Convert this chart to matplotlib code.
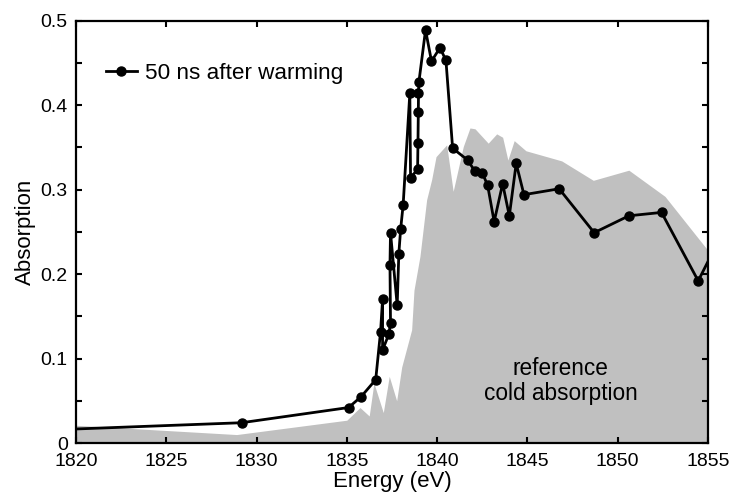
import matplotlib
matplotlib.use("Agg")
import matplotlib.pyplot as plt
from matplotlib.ticker import MultipleLocator, FuncFormatter

plt.rcParams['font.family'] = ['Liberation Sans', 'DejaVu Sans']

# measured 50 ns after warming (energy eV, absorption)
warm_energy = [1818.0, 1829.17, 1835.1, 1835.8, 1836.6, 1836.87, 1836.98, 1836.98,
               1837.33, 1837.42, 1837.39, 1837.42, 1837.79, 1837.88, 1837.98, 1838.12,
               1838.49, 1838.53, 1838.92, 1838.94, 1838.96, 1838.97, 1838.99, 1839.36,
               1839.69, 1840.16, 1840.49, 1840.86, 1841.69, 1842.09, 1842.5, 1842.8,
               1843.16, 1843.63, 1844.0, 1844.38, 1844.81, 1846.76, 1848.70, 1850.62,
               1852.43, 1854.46, 1855.6]
warm_abs = [0.015, 0.024, 0.042, 0.055, 0.075, 0.132, 0.170, 0.110,
            0.129, 0.142, 0.211, 0.249, 0.163, 0.224, 0.253, 0.282,
            0.414, 0.314, 0.324, 0.355, 0.392, 0.414, 0.427, 0.489,
            0.452, 0.468, 0.453, 0.349, 0.335, 0.322, 0.320, 0.305,
            0.262, 0.307, 0.269, 0.331, 0.294, 0.301, 0.249, 0.269,
            0.273, 0.192, 0.240]

# reference cold absorption (grey area)
cold_energy = [1820.0, 1828.9, 1835.0, 1835.73, 1836.24, 1836.5, 1837.02, 1837.35,
               1837.76, 1838.04, 1838.59, 1838.72, 1839.05, 1839.42, 1839.7, 1839.94,
               1840.53, 1840.89, 1841.45, 1841.82, 1842.1, 1842.83, 1843.3, 1843.63,
               1843.92, 1844.27, 1844.92, 1846.9, 1848.65, 1850.62, 1852.62, 1855.0]
cold_abs = [0.021, 0.010, 0.027, 0.042, 0.032, 0.071, 0.036, 0.079,
            0.050, 0.090, 0.134, 0.181, 0.221, 0.288, 0.312, 0.339,
            0.353, 0.298, 0.351, 0.373, 0.372, 0.355, 0.366, 0.362,
            0.335, 0.358, 0.346, 0.334, 0.311, 0.323, 0.292, 0.228]

fig = plt.figure(figsize=(7.34, 5), dpi=100)
ax = fig.add_axes([0.1035, 0.114, 0.861, 0.8446])

ax.fill_between(cold_energy, 0, cold_abs, color='#c0c0c0', linewidth=0, zorder=1)
ax.plot(warm_energy, warm_abs, color='black', linewidth=2.0, marker='o',
        markersize=6.5, label='50 ns after warming', zorder=3)

ax.text(1846.85, 0.0735, 'reference\ncold absorption', ha='center', va='center',
        fontsize=16.3, linespacing=1.15, zorder=4)

ax.set_xlim(1820, 1855)
ax.set_ylim(0, 0.5)
ax.xaxis.set_major_locator(MultipleLocator(5))
ax.yaxis.set_major_locator(MultipleLocator(0.1))
ax.yaxis.set_minor_locator(MultipleLocator(0.05))
ax.yaxis.set_major_formatter(FuncFormatter(lambda v, p: '%g' % round(v, 2)))

ax.tick_params(which='both', direction='in', top=True, right=True,
               length=4, width=1.5, labelsize=14)
ax.tick_params(axis='x', pad=7)
ax.tick_params(axis='y', pad=6)
for s in ax.spines.values():
    s.set_linewidth(1.6)

ax.set_xlabel('Energy (eV)', fontsize=16, labelpad=1)
ax.set_ylabel('Absorption', fontsize=16, labelpad=3)

ax.legend(loc='center left', bbox_to_anchor=(0.047, 0.876), frameon=False,
          fontsize=16.2, handlelength=1.4, handletextpad=0.35,
          borderpad=0, borderaxespad=0)

fig.savefig('out.png', dpi=100)
